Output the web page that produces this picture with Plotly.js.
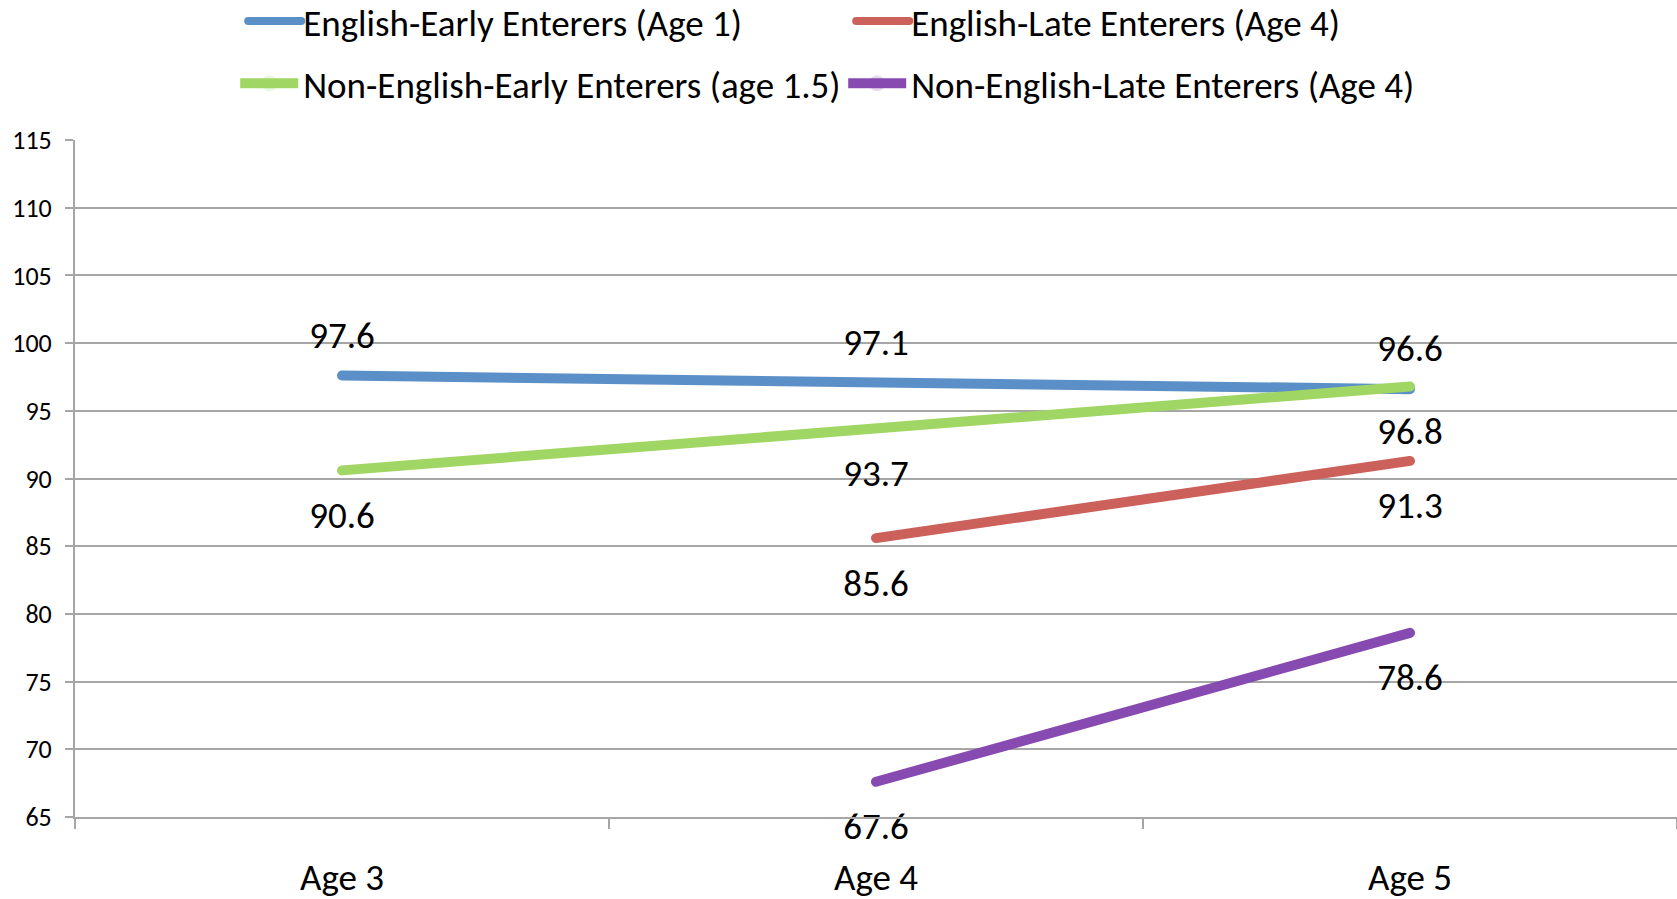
<!DOCTYPE html>
<html>
<head>
<meta charset="utf-8">
<script src="https://cdn.plot.ly/plotly-3.0.1.min.js"></script>
<style>
  html, body { margin: 0; padding: 0; background: #fff; }
  #chart { width: 1677px; height: 899px; }
  .scatterlayer .js-line { stroke-linecap: round; }
  .legend .js-line { stroke-linecap: round; stroke-width: 8px !important; }
  .legend .legendpoints { display: none; }
  .legend .scatterpts { display: none; }
</style>
</head>
<body>
<div id="chart"></div>
<script>
const categories = ['Age 3', 'Age 4', 'Age 5'];
const englishEarly = [97.6, 97.1, 96.6];
const englishLate = [null, 85.6, 91.3];
const nonEnglishEarly = [90.6, 93.7, 96.8];
const nonEnglishLate = [null, 67.6, 78.6];
const yTicks = [65, 70, 75, 80, 85, 90, 95, 100, 105, 110, 115];

const FONT = "Carlito, Calibri, 'Liberation Sans Narrow', 'DejaVu Sans Condensed', 'Liberation Sans', sans-serif";
const fmt = arr => arr.map(v => v == null ? '' : v.toFixed(1));

function series(name, values, color, pos, msize, legend) {
  return {
    type: 'scatter',
    mode: 'lines+markers+text',
    name: name,
    x: categories,
    y: values,
    text: fmt(values),
    textposition: pos,
    textfont: {family: FONT, size: 37, color: '#000'},
    line: {color: color, width: 10},
    marker: {size: msize, opacity: 0, color: color},
    connectgaps: false,
    cliponaxis: false,
    legend: legend,
    hoverinfo: 'x+y+name'
  };
}

const data = [
  series('English-Early Enterers (Age 1)', englishEarly, '#5B8FC8', 'top center', 28, 'legend'),
  series('English-Late Enterers (Age 4)', englishLate, '#CC605B', 'bottom center', 46, 'legend'),
  series('Non-English-Early Enterers (age 1.5)', nonEnglishEarly, '#A0D663', 'bottom center', 46, 'legend2'),
  series('Non-English-Late Enterers (Age 4)', nonEnglishLate, '#874AB0', 'bottom center', 46, 'legend2')
];

const legendCommon = {
  orientation: 'h',
  xanchor: 'left',
  yanchor: 'middle',
  font: {family: FONT, size: 37, color: '#000'},
  entrywidth: 535,
  entrywidthmode: 'pixels',
  itemwidth: 58,
  bgcolor: 'rgba(0,0,0,0)',
  traceorder: 'normal'
};

const layout = {
  width: 1677,
  height: 899,
  margin: {l: 75, r: 0, t: 140, b: 82, autoexpand: false},
  paper_bgcolor: '#fff',
  plot_bgcolor: '#fff',
  font: {family: FONT, color: '#000'},
  showlegend: true,
  legend: Object.assign({}, legendCommon, {x: 0.1, y: 1.175}),
  legend2: Object.assign({}, legendCommon, {x: 0.1, y: 1.083}),
  xaxis: {
    type: 'category',
    range: [-0.5, 2.5],
    showgrid: false,
    showline: true,
    linecolor: '#A6A6A6',
    linewidth: 2,
    ticks: 'outside',
    tickson: 'boundaries',
    ticklen: 10,
    tickwidth: 2,
    tickcolor: '#A6A6A6',
    tickfont: {family: FONT, size: 37, color: '#000'},
    ticklabelstandoff: 27,
    zeroline: false
  },
  yaxis: {
    range: [65, 115],
    tickvals: yTicks,
    ticktext: yTicks.map(String),
    showgrid: true,
    gridcolor: '#A6A6A6',
    gridwidth: 2,
    showline: true,
    linecolor: '#A6A6A6',
    linewidth: 2,
    ticks: 'outside',
    ticklen: 8,
    tickwidth: 2,
    tickcolor: '#A6A6A6',
    tickfont: {family: FONT, size: 26, color: '#000'},
    ticklabelstandoff: 8,
    zeroline: false
  }
};

Plotly.newPlot('chart', data, layout, {displayModeBar: false, responsive: false}).then(() => {
  document.querySelectorAll('.legend path').forEach(p => {
    if (p.classList.contains('js-line')) {
      p.setAttribute('d', 'M13,0h53');
    } else {
      p.remove();
    }
  });
});
</script>
</body>
</html>
